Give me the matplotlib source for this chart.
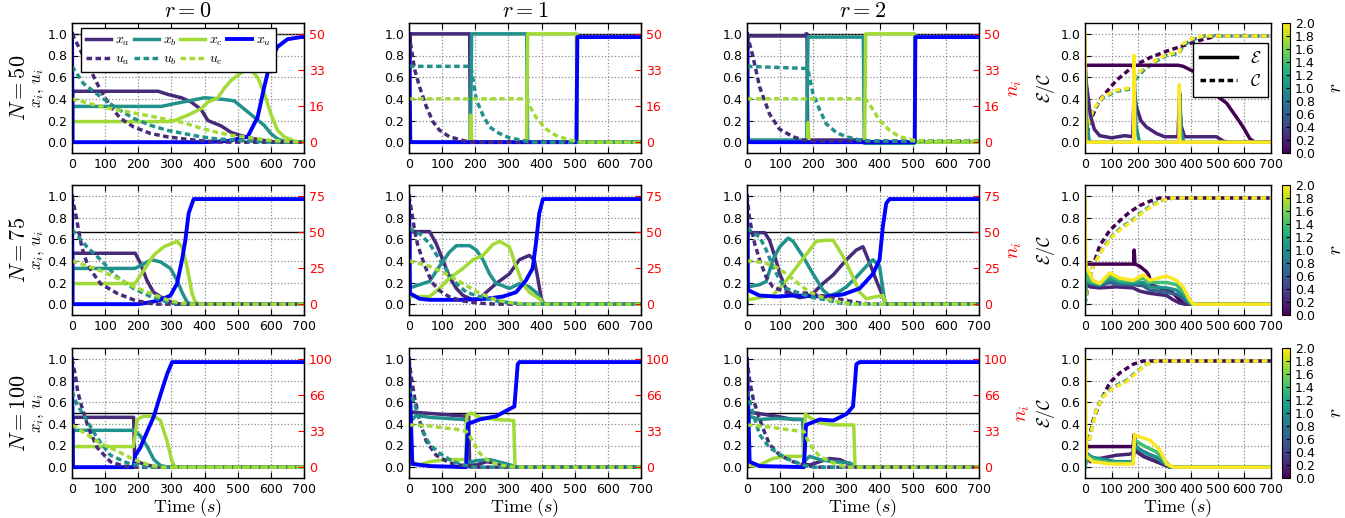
import numpy as np
import matplotlib
matplotlib.use('Agg')
import matplotlib.pyplot as plt
from matplotlib.lines import Line2D

plt.rcParams['mathtext.fontset'] = 'cm'
plt.rcParams['font.family'] = ['DejaVu Sans']

# panel settings
N_values = [50, 75, 100]
r_titles = [0, 1, 2]
t_ticks = [0, 100, 200, 300, 400, 500, 600, 700]

# (time, value) breakpoints
# ---- r = 0, N = 50
r0_n50_xa = [(0, 0.0), (2, 0.47), (260, 0.47), (290, 0.44), (330, 0.41), (360, 0.37), (390, 0.3), (410, 0.2), (450, 0.15), (480, 0.09), (510, 0.06), (550, 0.03), (590, 0.01), (620, 0.0), (700, 0.0)]
r0_n50_xb = [(0, 0.0), (2, 0.33), (270, 0.33), (300, 0.35), (350, 0.38), (400, 0.41), (440, 0.40), (470, 0.39), (490, 0.38), (510, 0.33), (550, 0.23), (580, 0.155), (600, 0.08), (620, 0.03), (650, 0.0), (700, 0.0)]
r0_n50_xc = [(0, 0.0), (2, 0.19), (290, 0.19), (310, 0.2), (350, 0.25), (390, 0.31), (410, 0.37), (440, 0.41), (460, 0.5), (480, 0.57), (510, 0.64), (535, 0.68), (560, 0.6), (580, 0.45), (600, 0.26), (620, 0.11), (640, 0.05), (670, 0.01), (700, 0.0)]
r0_n50_xu = [(0, 1.0), (2, 0.0), (400, 0.0), (470, 0.01), (530, 0.05), (560, 0.23), (580, 0.51), (600, 0.76), (620, 0.88), (650, 0.95), (690, 0.97), (700, 0.97)]
r0_n50_ua = [(0, 1.0), (20, 0.88), (45, 0.73), (86, 0.48), (116, 0.33), (146, 0.22), (186, 0.14), (237, 0.08), (287, 0.05), (337, 0.03), (400, 0.01), (450, 0.0), (700, 0.0)]
r0_n50_ub = [(0, 0.7), (35, 0.54), (86, 0.42), (136, 0.31), (186, 0.22), (237, 0.155), (287, 0.11), (337, 0.08), (388, 0.05), (438, 0.03), (488, 0.02), (540, 0.01), (600, 0.0), (700, 0.0)]
r0_n50_uc = [(0, 0.4), (86, 0.33), (186, 0.27), (287, 0.21), (337, 0.18), (388, 0.13), (438, 0.09), (488, 0.06), (538, 0.04), (588, 0.02), (640, 0.01), (700, 0.0)]

# ---- r = 1, N = 50
r1_n50_xa = [(0, 0.0), (4, 1.0), (183, 1.0), (185, 0.0), (700, 0.0)]
r1_n50_xb = [(0, 0.3), (4, 0.0), (185, 0.0), (189, 1.0), (355, 1.0), (358, 0.0), (700, 0.0)]
r1_n50_xc = [(0, 0.15), (4, 0.0), (184, 0.0), (186, 0.25), (190, 0.0), (355, 0.0), (358, 1.0), (505, 1.0), (508, 0.0), (700, 0.0)]
r1_n50_xu = [(0, 1.0), (4, 0.0), (505, 0.0), (508, 0.97), (700, 0.97)]
r1_n50_ua = [(0, 1.0), (17, 0.67), (32, 0.51), (52, 0.33), (72, 0.19), (92, 0.11), (122, 0.05), (163, 0.015), (185, 0.0), (700, 0.0)]
r1_n50_ub = [(0, 0.7), (187, 0.7), (203, 0.39), (223, 0.25), (243, 0.14), (273, 0.08), (303, 0.04), (343, 0.015), (370, 0.0), (700, 0.0)]
r1_n50_uc = [(0, 0.4), (357, 0.4), (363, 0.34), (383, 0.23), (414, 0.12), (444, 0.06), (484, 0.02), (520, 0.0), (700, 0.0)]

# ---- r = 2, N = 50
r2_n50_xa = [(0, 0.0), (3, 0.98), (176, 0.98), (178, 1.0), (181, 1.0), (183, 0.02), (355, 0.02), (357, 0.0), (700, 0.0)]
r2_n50_xb = [(0, 0.3), (3, 0.02), (180, 0.02), (184, 0.97), (351, 0.97), (354, -0.01), (505, -0.01), (507, 0.0), (700, 0.0)]
r2_n50_xc = [(0, 0.15), (3, 0.0), (182, 0.0), (184, 0.18), (188, 0.0), (355, 0.0), (358, 1.0), (506, 1.0), (508, 0.0), (700, 0.0)]
r2_n50_xu = [(0, 1.0), (3, 0.0), (506, 0.0), (508, 0.97), (700, 0.97)]
r2_n50_ua = [(0, 1.0), (18, 0.79), (38, 0.51), (68, 0.26), (98, 0.12), (139, 0.05), (169, 0.02), (200, 0.01), (700, 0.01)]
r2_n50_ub = [(0, 0.7), (183, 0.68), (199, 0.45), (219, 0.3), (239, 0.17), (269, 0.09), (299, 0.05), (340, 0.02), (380, 0.01), (700, 0.01)]
r2_n50_uc = [(0, 0.4), (358, 0.4), (380, 0.3), (400, 0.2), (430, 0.11), (460, 0.05), (500, 0.02), (540, 0.01), (700, 0.01)]

# ---- r = 0, N = 75
r0_n75_xa = [(0, 0.0), (2, 0.47), (191, 0.47), (206, 0.38), (226, 0.22), (246, 0.11), (277, 0.05), (307, 0.01), (330, 0.0), (700, 0.0)]
r0_n75_xb = [(0, 0.0), (2, 0.33), (190, 0.33), (240, 0.41), (267, 0.39), (297, 0.33), (317, 0.22), (332, 0.11), (347, 0.02), (360, 0.0), (700, 0.0)]
r0_n75_xc = [(0, 0.0), (2, 0.19), (190, 0.19), (216, 0.31), (246, 0.45), (277, 0.53), (317, 0.58), (332, 0.53), (347, 0.35), (362, 0.1), (372, 0.02), (385, 0.0), (700, 0.0)]
r0_n75_xu = [(0, 1.0), (2, 0.0), (200, 0.0), (240, 0.02), (267, 0.04), (297, 0.08), (317, 0.19), (332, 0.41), (342, 0.59), (352, 0.84), (367, 0.97), (700, 0.97)]
r0_n75_ua = [(0, 1.0), (10, 0.85), (20, 0.68), (30, 0.52), (45, 0.38), (60, 0.3), (86, 0.19), (136, 0.1), (186, 0.04), (227, 0.01), (260, 0.0), (700, 0.0)]
r0_n75_ub = [(0, 0.69), (45, 0.53), (86, 0.41), (136, 0.25), (186, 0.145), (237, 0.07), (287, 0.02), (330, 0.0), (700, 0.0)]
r0_n75_uc = [(0, 0.4), (86, 0.31), (136, 0.24), (186, 0.16), (237, 0.1), (287, 0.04), (327, 0.01), (360, 0.0), (700, 0.0)]

# ---- r = 1, N = 75
r1_n75_xa = [(0, 0.0), (3, 0.67), (62, 0.67), (82, 0.56), (102, 0.41), (122, 0.25), (143, 0.145), (163, 0.08), (193, 0.04), (213, 0.05), (233, 0.11), (263, 0.19), (303, 0.28), (333, 0.41), (363, 0.45), (378, 0.41), (388, 0.25), (398, 0.07), (404, 0.0), (700, 0.0)]
r1_n75_xb = [(0, 0.3), (3, 0.15), (12, 0.16), (62, 0.21), (92, 0.35), (122, 0.48), (143, 0.54), (183, 0.54), (203, 0.5), (223, 0.41), (243, 0.28), (263, 0.19), (283, 0.17), (303, 0.145), (333, 0.19), (363, 0.16), (383, 0.11), (404, 0.02), (410, 0.0), (700, 0.0)]
r1_n75_xc = [(0, 0.1), (3, 0.07), (62, 0.07), (92, 0.145), (122, 0.24), (163, 0.33), (193, 0.41), (223, 0.45), (253, 0.55), (273, 0.58), (303, 0.53), (323, 0.35), (343, 0.19), (363, 0.11), (383, 0.07), (398, 0.04), (404, 0.0), (700, 0.0)]
r1_n75_xu = [(0, 1.0), (3, 0.1), (32, 0.05), (62, 0.04), (163, 0.04), (233, 0.05), (283, 0.07), (323, 0.11), (353, 0.22), (373, 0.33), (383, 0.56), (393, 0.84), (404, 0.97), (700, 0.97)]
r1_n75_ua = [(0, 1.0), (8, 0.85), (17, 0.68), (26, 0.55), (40, 0.42), (55, 0.3), (70, 0.2), (90, 0.13), (120, 0.07), (160, 0.03), (210, 0.01), (260, 0.0), (700, 0.0)]
r1_n75_ub = [(0, 0.7), (32, 0.65), (62, 0.56), (92, 0.41), (122, 0.28), (143, 0.19), (173, 0.11), (213, 0.07), (263, 0.03), (313, 0.01), (350, 0.0), (700, 0.0)]
r1_n75_uc = [(0, 0.4), (62, 0.35), (112, 0.28), (163, 0.19), (213, 0.1), (263, 0.04), (313, 0.01), (350, 0.0), (700, 0.0)]

# ---- r = 2, N = 75
r2_n75_xa = [(0, 0.0), (3, 0.66), (53, 0.66), (68, 0.59), (84, 0.44), (99, 0.28), (119, 0.13), (139, 0.08), (159, 0.06), (179, 0.07), (199, 0.1), (229, 0.19), (260, 0.27), (300, 0.41), (330, 0.5), (350, 0.53), (370, 0.38), (390, 0.22), (410, 0.07), (420, 0.0), (700, 0.0)]
r2_n75_xb = [(0, 0.3), (3, 0.16), (38, 0.18), (58, 0.21), (78, 0.41), (99, 0.53), (124, 0.61), (139, 0.58), (169, 0.44), (199, 0.28), (229, 0.13), (249, 0.08), (270, 0.1), (300, 0.16), (330, 0.25), (360, 0.35), (380, 0.41), (400, 0.35), (415, 0.04), (420, 0.0), (700, 0.0)]
r2_n75_xc = [(0, 0.1), (3, 0.04), (38, 0.06), (78, 0.08), (119, 0.22), (159, 0.38), (189, 0.5), (209, 0.58), (239, 0.59), (260, 0.59), (290, 0.44), (320, 0.25), (340, 0.11), (360, 0.05), (390, 0.07), (410, 0.08), (420, 0.0), (700, 0.0)]
r2_n75_xu = [(0, 1.0), (3, 0.13), (38, 0.08), (89, 0.07), (139, 0.08), (239, 0.07), (290, 0.09), (340, 0.145), (380, 0.28), (400, 0.41), (410, 0.72), (420, 0.93), (430, 0.97), (700, 0.97)]
r2_n75_ua = [(0, 1.0), (8, 0.78), (23, 0.56), (38, 0.41), (58, 0.25), (78, 0.16), (119, 0.11), (189, 0.1), (239, 0.07), (290, 0.04), (340, 0.01), (380, 0.0), (700, 0.0)]
r2_n75_ub = [(0, 0.7), (38, 0.62), (58, 0.5), (78, 0.35), (99, 0.22), (119, 0.145), (159, 0.1), (199, 0.06), (239, 0.04), (280, 0.01), (320, 0.0), (700, 0.0)]
r2_n75_uc = [(0, 0.4), (38, 0.39), (78, 0.36), (119, 0.28), (159, 0.18), (189, 0.11), (239, 0.05), (280, 0.02), (320, 0.0), (700, 0.0)]

# ---- r = 0, N = 100
r0_n100_xa = [(0, 0.0), (3, 0.46), (186, 0.46), (189, 0.08), (196, 0.05), (226, 0.02), (260, 0.0), (700, 0.0)]
r0_n100_xb = [(0, 0.0), (3, 0.34), (186, 0.34), (206, 0.29), (227, 0.19), (247, 0.07), (267, 0.015), (290, 0.0), (700, 0.0)]
r0_n100_xc = [(0, 0.0), (3, 0.19), (185, 0.19), (191, 0.3), (196, 0.44), (216, 0.47), (247, 0.47), (267, 0.43), (287, 0.24), (302, 0.05), (312, 0.0), (700, 0.0)]
r0_n100_xu = [(0, 1.0), (3, 0.0), (185, 0.0), (188, 0.05), (191, 0.11), (206, 0.18), (227, 0.33), (247, 0.47), (267, 0.67), (287, 0.86), (302, 0.97), (700, 0.97)]
r0_n100_ua = [(0, 1.0), (10, 0.85), (17, 0.7), (30, 0.55), (50, 0.36), (76, 0.18), (116, 0.05), (156, 0.01), (190, 0.0), (700, 0.0)]
r0_n100_ub = [(0, 0.7), (15, 0.58), (45, 0.43), (76, 0.27), (116, 0.11), (166, 0.04), (206, 0.01), (240, 0.0), (700, 0.0)]
r0_n100_uc = [(0, 0.39), (86, 0.22), (136, 0.15), (186, 0.07), (237, 0.015), (270, 0.0), (700, 0.0)]

# ---- r = 1, N = 100
r1_n100_xa = [(0, 0.0), (3, 0.51), (173, 0.47), (180, 0.47), (183, 0.02), (203, 0.02), (233, 0.05), (263, 0.04), (303, 0.01), (320, 0.0), (700, 0.0)]
r1_n100_xb = [(0, 0.3), (7, 0.43), (22, 0.48), (62, 0.46), (163, 0.44), (173, 0.43), (176, 0.04), (203, 0.06), (243, 0.07), (283, 0.04), (318, 0.01), (325, 0.0), (700, 0.0)]
r1_n100_xc = [(0, 0.15), (7, 0.05), (32, 0.02), (62, 0.05), (112, 0.07), (171, 0.07), (175, 0.48), (188, 0.5), (213, 0.46), (263, 0.44), (316, 0.43), (320, 0.0), (700, 0.0)]
r1_n100_xu = [(0, 1.0), (10, 0.03), (62, 0.01), (172, 0.0), (178, 0.4), (213, 0.44), (263, 0.47), (293, 0.52), (318, 0.56), (328, 0.95), (333, 0.97), (700, 0.97)]
r1_n100_ua = [(0, 1.0), (7, 0.83), (17, 0.64), (32, 0.43), (52, 0.24), (82, 0.11), (122, 0.04), (163, 0.015), (190, 0.0), (700, 0.0)]
r1_n100_ub = [(0, 0.73), (17, 0.58), (42, 0.33), (62, 0.21), (92, 0.13), (133, 0.05), (173, 0.015), (200, 0.0), (700, 0.0)]
r1_n100_uc = [(0, 0.39), (62, 0.38), (112, 0.36), (143, 0.35), (173, 0.33), (193, 0.24), (213, 0.13), (243, 0.05), (283, 0.015), (320, 0.0), (700, 0.0)]

# ---- r = 2, N = 100
r2_n100_xa = [(0, 0.0), (3, 0.51), (89, 0.47), (139, 0.44), (169, 0.44), (172, 0.03), (189, 0.02), (219, 0.05), (249, 0.08), (280, 0.07), (320, 0.015), (330, 0.0), (700, 0.0)]
r2_n100_xb = [(0, 0.3), (8, 0.47), (38, 0.44), (89, 0.45), (169, 0.44), (172, 0.05), (189, 0.1), (219, 0.07), (260, 0.05), (310, 0.04), (330, 0.0), (700, 0.0)]
r2_n100_xc = [(0, 0.15), (13, 0.01), (38, 0.02), (78, 0.08), (119, 0.1), (170, 0.1), (176, 0.49), (189, 0.46), (219, 0.41), (260, 0.39), (322, 0.39), (326, 0.0), (700, 0.0)]
r2_n100_xu = [(0, 1.0), (8, 0.05), (38, 0.01), (172, 0.0), (178, 0.39), (219, 0.44), (260, 0.43), (300, 0.49), (320, 0.56), (330, 0.95), (340, 0.97), (700, 0.97)]
r2_n100_ua = [(0, 1.0), (8, 0.8), (18, 0.64), (33, 0.49), (48, 0.36), (68, 0.21), (99, 0.11), (139, 0.05), (179, 0.015), (220, 0.0), (700, 0.0)]
r2_n100_ub = [(0, 0.7), (13, 0.55), (38, 0.3), (68, 0.18), (119, 0.08), (169, 0.02), (200, 0.0), (700, 0.0)]
r2_n100_uc = [(0, 0.39), (68, 0.37), (139, 0.34), (172, 0.33), (189, 0.21), (219, 0.1), (260, 0.04), (300, 0.0), (700, 0.0)]

# ---- right column: E (cluster efficiency) and C (coverage) for several r
n50_E_r = [0.0, 0.2, 1.0, 2.0]
n50_E_r00 = [(0, 0.0), (2, 0.71), (350, 0.71), (370, 0.70), (394, 0.67), (420, 0.64), (457, 0.51), (495, 0.43), (533, 0.36), (570, 0.23), (595, 0.14), (621, 0.03), (640, 0.0), (700, 0.0)]
n50_E_r02 = [(0, 0.0), (2, 0.6), (10, 0.45), (20, 0.25), (35, 0.12), (55, 0.06), (100, 0.04), (150, 0.06), (180, 0.05), (185, 0.5), (193, 0.33), (210, 0.2), (231, 0.14), (269, 0.08), (300, 0.05), (350, 0.05), (355, 0.4), (362, 0.15), (375, 0.05), (450, 0.05), (495, 0.05), (520, 0.01), (540, 0.0), (700, 0.0)]
n50_E_r10 = [(0, 0.0), (2, 0.65), (6, 0.2), (15, 0.02), (25, 0.0), (183, 0.0), (186, 0.55), (192, 0.15), (205, 0.0), (354, 0.0), (357, 0.45), (362, 0.1), (372, 0.0), (700, 0.0)]
n50_E_r20 = [(0, 1.0), (3, 0.0), (184, 0.0), (185, 0.8), (187, 0.0), (354, 0.0), (355, 0.53), (357, 0.0), (700, 0.0)]
n50_C_r = [0.0, 1.0, 2.0]
n50_C_r00 = [(0, 0.0), (20, 0.2), (55, 0.39), (118, 0.57), (181, 0.7), (244, 0.78), (307, 0.84), (369, 0.89), (432, 0.94), (495, 0.98), (700, 0.98)]
n50_C_r10 = [(0, 0.0), (5, 0.1), (30, 0.29), (68, 0.41), (118, 0.47), (168, 0.49), (184, 0.49), (190, 0.58), (219, 0.66), (269, 0.75), (307, 0.8), (354, 0.82), (372, 0.9), (410, 0.95), (450, 0.98), (700, 0.98)]
n50_C_r20 = [(0, 0.0), (5, 0.1), (30, 0.3), (68, 0.42), (118, 0.48), (168, 0.5), (184, 0.5), (187, 0.6), (219, 0.68), (269, 0.76), (307, 0.81), (354, 0.83), (369, 0.91), (407, 0.96), (445, 0.98), (700, 0.98)]

n75_E_r = [0.0, 0.2, 0.6, 1.0, 1.4, 2.0]
n75_E_r00 = [(0, 0.0), (3, 0.37), (183, 0.37), (185, 0.5), (188, 0.37), (206, 0.35), (231, 0.3), (240, 0.27), (250, 0.18), (280, 0.15), (320, 0.13), (340, 0.08), (360, 0.03), (375, 0.0), (700, 0.0)]
n75_E_r02 = [(0, 0.0), (3, 0.2), (18, 0.16), (55, 0.15), (118, 0.16), (181, 0.15), (206, 0.12), (244, 0.1), (307, 0.08), (332, 0.04), (357, 0.01), (380, 0.0), (700, 0.0)]
n75_E_r06 = [(0, 0.0), (3, 0.25), (18, 0.19), (55, 0.17), (93, 0.2), (131, 0.18), (181, 0.18), (219, 0.17), (244, 0.13), (307, 0.11), (344, 0.09), (370, 0.05), (390, 0.01), (400, 0.0), (700, 0.0)]
n75_E_r10 = [(0, 0.0), (3, 0.28), (18, 0.2), (55, 0.18), (93, 0.23), (131, 0.2), (181, 0.19), (219, 0.2), (244, 0.16), (307, 0.15), (344, 0.13), (375, 0.07), (395, 0.01), (405, 0.0), (700, 0.0)]
n75_E_r14 = [(0, 0.0), (3, 0.3), (18, 0.21), (55, 0.19), (93, 0.26), (131, 0.22), (181, 0.21), (219, 0.24), (244, 0.2), (307, 0.2), (344, 0.18), (375, 0.1), (398, 0.02), (408, 0.0), (700, 0.0)]
n75_E_r20 = [(0, 1.0), (3, 0.35), (30, 0.22), (55, 0.19), (93, 0.29), (131, 0.24), (181, 0.22), (219, 0.27), (244, 0.22), (307, 0.26), (344, 0.22), (369, 0.16), (394, 0.04), (407, 0.0), (700, 0.0)]
n75_C_r = [0.0, 1.0, 2.0]
n75_C_r00 = [(0, 0.0), (10, 0.15), (30, 0.35), (55, 0.54), (93, 0.68), (131, 0.77), (168, 0.85), (206, 0.91), (244, 0.95), (281, 0.98), (700, 0.98)]
n75_C_r10 = [(0, 0.0), (5, 0.1), (30, 0.36), (68, 0.52), (106, 0.64), (143, 0.72), (181, 0.78), (219, 0.86), (256, 0.92), (294, 0.96), (332, 0.98), (700, 0.98)]
n75_C_r20 = [(0, 0.0), (5, 0.1), (30, 0.35), (68, 0.51), (106, 0.63), (143, 0.71), (181, 0.77), (219, 0.85), (256, 0.91), (294, 0.96), (332, 0.98), (700, 0.98)]

n100_E_r = [0.0, 0.2, 0.6, 1.0, 1.4, 2.0]
n100_E_r00 = [(0, 0.0), (5, 0.19), (181, 0.19), (185, 0.3), (190, 0.15), (220, 0.1), (260, 0.06), (300, 0.02), (320, 0.0), (700, 0.0)]
n100_E_r02 = [(0, 0.0), (5, 0.12), (20, 0.05), (55, 0.08), (118, 0.11), (168, 0.12), (180, 0.13), (186, 0.28), (193, 0.15), (219, 0.1), (260, 0.06), (300, 0.02), (320, 0.0), (700, 0.0)]
n100_E_r06 = [(0, 0.0), (5, 0.13), (30, 0.08), (93, 0.05), (168, 0.04), (180, 0.04), (186, 0.2), (200, 0.17), (240, 0.12), (280, 0.08), (310, 0.02), (325, 0.0), (700, 0.0)]
n100_E_r10 = [(0, 0.0), (5, 0.12), (30, 0.09), (118, 0.05), (168, 0.05), (180, 0.05), (186, 0.2), (219, 0.14), (269, 0.09), (307, 0.02), (325, 0.0), (700, 0.0)]
n100_E_r14 = [(0, 0.0), (5, 0.11), (30, 0.07), (93, 0.04), (168, 0.035), (180, 0.04), (186, 0.25), (219, 0.2), (269, 0.14), (300, 0.06), (320, 0.01), (330, 0.0), (700, 0.0)]
n100_E_r20 = [(0, 1.0), (5, 0.1), (30, 0.05), (93, 0.03), (168, 0.03), (182, 0.03), (186, 0.3), (206, 0.28), (244, 0.25), (281, 0.16), (307, 0.03), (332, 0.0), (700, 0.0)]
n100_C_r = [0.0, 1.0, 2.0]
n100_C_r00 = [(0, 0.0), (10, 0.2), (30, 0.43), (55, 0.59), (93, 0.78), (131, 0.87), (181, 0.95), (219, 0.98), (700, 0.98)]
n100_C_r10 = [(0, 0.0), (11, 0.2), (43, 0.54), (68, 0.66), (106, 0.74), (156, 0.8), (193, 0.88), (231, 0.95), (269, 0.98), (700, 0.98)]
n100_C_r20 = [(0, 0.0), (11, 0.19), (43, 0.53), (68, 0.65), (106, 0.73), (156, 0.79), (193, 0.87), (231, 0.95), (269, 0.98), (700, 0.98)]

# collect per panel: rows = N, cols = r
main_data = [
    [(r0_n50_xa, r0_n50_xb, r0_n50_xc, r0_n50_xu, r0_n50_ua, r0_n50_ub, r0_n50_uc),
     (r1_n50_xa, r1_n50_xb, r1_n50_xc, r1_n50_xu, r1_n50_ua, r1_n50_ub, r1_n50_uc),
     (r2_n50_xa, r2_n50_xb, r2_n50_xc, r2_n50_xu, r2_n50_ua, r2_n50_ub, r2_n50_uc)],
    [(r0_n75_xa, r0_n75_xb, r0_n75_xc, r0_n75_xu, r0_n75_ua, r0_n75_ub, r0_n75_uc),
     (r1_n75_xa, r1_n75_xb, r1_n75_xc, r1_n75_xu, r1_n75_ua, r1_n75_ub, r1_n75_uc),
     (r2_n75_xa, r2_n75_xb, r2_n75_xc, r2_n75_xu, r2_n75_ua, r2_n75_ub, r2_n75_uc)],
    [(r0_n100_xa, r0_n100_xb, r0_n100_xc, r0_n100_xu, r0_n100_ua, r0_n100_ub, r0_n100_uc),
     (r1_n100_xa, r1_n100_xb, r1_n100_xc, r1_n100_xu, r1_n100_ua, r1_n100_ub, r1_n100_uc),
     (r2_n100_xa, r2_n100_xb, r2_n100_xc, r2_n100_xu, r2_n100_ua, r2_n100_ub, r2_n100_uc)],
]
right_data = [
    (n50_E_r, [n50_E_r00, n50_E_r02, n50_E_r10, n50_E_r20], n50_C_r, [n50_C_r00, n50_C_r10, n50_C_r20]),
    (n75_E_r, [n75_E_r00, n75_E_r02, n75_E_r06, n75_E_r10, n75_E_r14, n75_E_r20], n75_C_r, [n75_C_r00, n75_C_r10, n75_C_r20]),
    (n100_E_r, [n100_E_r00, n100_E_r02, n100_E_r06, n100_E_r10, n100_E_r14, n100_E_r20], n100_C_r, [n100_C_r00, n100_C_r10, n100_C_r20]),
]

cmap = plt.get_cmap('viridis')
c_a = cmap(0.12)
c_b = cmap(0.5)
c_c = cmap(0.86)
c_u = (0.0, 0.0, 1.0)
series_style = [
    (c_a, '-', r'$x_a$'), (c_b, '-', r'$x_b$'), (c_c, '-', r'$x_c$'), (c_u, '-', r'$x_u$'),
    (c_a, '--', r'$u_a$'), (c_b, '--', r'$u_b$'), (c_c, '--', r'$u_c$'),
]
DASH = (1.6, 1.0)

W, H = 1345, 518
fig = plt.figure(figsize=(W / 100, H / 100), dpi=100)

row_top = [23, 185, 348]
col_left = [72, 409, 747]
ax_h = 130
ax_w = 232


def frac_rect(x0, y0, w, h):
    return [x0 / W, 1 - (y0 + h) / H, w / W, h / H]


def style_axes(ax):
    ax.set_xlim(0, 700)
    ax.set_ylim(-0.1, 1.1)
    ax.set_xticks(t_ticks)
    ax.set_yticks([0, 0.2, 0.4, 0.6, 0.8, 1.0])
    ax.set_yticklabels(['0.0', '0.2', '0.4', '0.6', '0.8', '1.0'])
    ax.grid(True, ls=':', color='0.55', lw=0.9)
    ax.tick_params(direction='in', labelsize=9, length=4, top=True)
    for s in ax.spines.values():
        s.set_linewidth(1.0)


def draw(ax, pts, color, ls, lw=2.5, label=None):
    arr = np.array(pts, dtype=float)
    line = ax.plot(arr[:, 0], arr[:, 1], color=color, ls=ls, lw=lw, label=label)[0]
    if ls == '--':
        line.set_dashes(DASH)
    return line


for i, N in enumerate(N_values):
    for j in range(3):
        ax = fig.add_axes(frac_rect(col_left[j], row_top[i], ax_w, ax_h))
        style_axes(ax)
        ax.axhline(50 / N, color='k', lw=1.0, zorder=1)
        handles = []
        for pts, (col, ls, lab) in zip(main_data[i][j], series_style):
            handles.append(draw(ax, pts, col, ls, lw=2.8 if col == c_u else 2.5, label=lab))
        ax2 = ax.twinx()
        ax2.set_ylim(-0.1 * N, 1.1 * N)
        ax2.set_yticks([0, N / 3, 2 * N / 3, N])
        ax2.set_yticklabels([str(int(v)) for v in [0, N / 3, 2 * N / 3, N]])
        ax2.tick_params(direction='in', labelsize=9, length=4, colors='red')
        ax2.spines['right'].set_color('k')
        if j == 2:
            ax2.set_ylabel(r'$n_i$', color='red', fontsize=14, labelpad=4)
        if i == 0:
            ax.set_title(r'$r = %d$' % r_titles[j], fontsize=16, pad=4)
        if i == 2:
            ax.set_xlabel(r'$\mathrm{Time}\ (s)$', fontsize=13, labelpad=0)
        if i == 0 and j == 0:
            order = [0, 4, 1, 5, 2, 6, 3]
            leg = ax.legend([handles[k] for k in order], [handles[k].get_label() for k in order],
                            ncol=4, loc='upper left', bbox_to_anchor=(0.04, 0.965),
                            borderaxespad=0, fontsize=10, handlelength=1.8, handletextpad=0.3,
                            columnspacing=0.25, labelspacing=0.3, borderpad=0.35,
                            fancybox=False, framealpha=1)
            leg.get_frame().set_edgecolor('k')
            leg.set_zorder(10)
        if j == 0:
            yc = 1 - (row_top[i] + ax_h / 2) / H
            fig.text(19 / W, yc, r'$N = %d$' % N, rotation=90, fontsize=16, ha='center', va='center')
            fig.text(37 / W, yc, r'$x_i,\, u_i$', rotation=90, fontsize=12, ha='center', va='center')

    # right column
    axr = fig.add_axes(frac_rect(1085, row_top[i], 186, ax_h))
    style_axes(axr)
    e_r, e_curves, c_r, c_curves = right_data[i]
    for rv, pts in zip(c_r, c_curves):
        draw(axr, pts, cmap(rv / 2.0), '--', lw=2.5)
    for rv, pts in zip(e_r, e_curves):
        draw(axr, pts, cmap(rv / 2.0), '-', lw=2.5)
    axr.set_ylabel(r'$\mathcal{E}/\mathcal{C}$', fontsize=13, labelpad=2)
    if i == 2:
        axr.set_xlabel(r'$\mathrm{Time}\ (s)$', fontsize=13, labelpad=0)
    if i == 0:
        hs = [Line2D([], [], color='k', lw=2.5, ls='-'), Line2D([], [], color='k', lw=2.5, dashes=DASH)]
        lg = axr.legend(hs, [r'$\mathcal{E}$', r'$\mathcal{C}$'], loc='upper right',
                        bbox_to_anchor=(0.985, 0.85), borderaxespad=0, fontsize=12,
                        handlelength=2.2, fancybox=False, framealpha=1, labelspacing=0.3)
        lg.get_frame().set_edgecolor('k')

    cax = fig.add_axes(frac_rect(1282, row_top[i], 8, ax_h))
    sm = plt.cm.ScalarMappable(norm=plt.Normalize(0, 2), cmap=cmap)
    cb = fig.colorbar(sm, cax=cax, ticks=np.arange(0, 2.01, 0.2), format='%.1f')
    cb.ax.tick_params(labelsize=9, direction='in', length=3)
    cb.set_label(r'$r$', fontsize=14, labelpad=8)

fig.savefig('out.png', dpi=100)
